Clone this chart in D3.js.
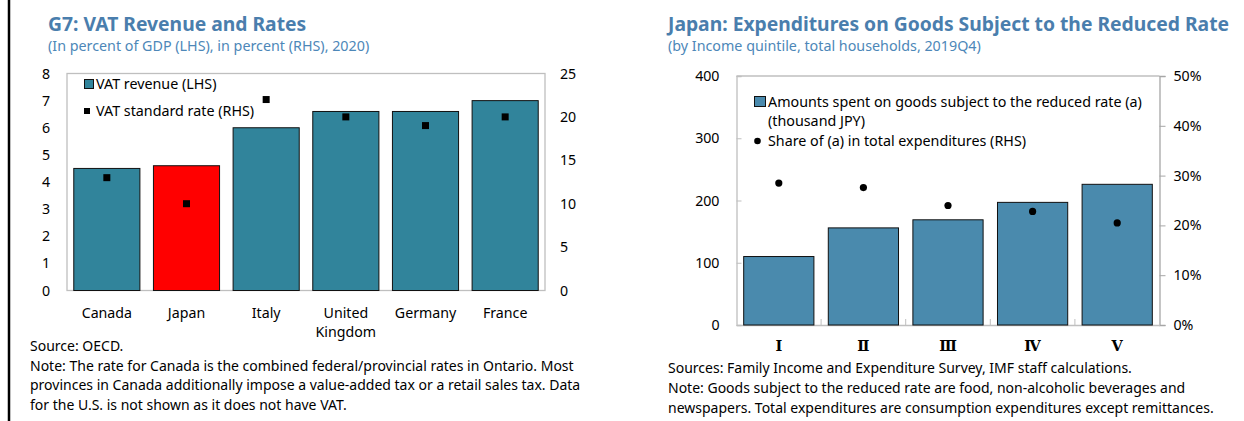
<!DOCTYPE html>
<html>
<head>
<meta charset="utf-8">
<script src="https://cdn.jsdelivr.net/npm/d3@7"></script>
<style>
  body { margin: 0; background: #fff; }
  text { font-family: "Noto Sans", "Open Sans", sans-serif; fill: #000; }
  .title { font-weight: bold; font-size: 19.3px; fill: #4a7ead; }
  .subtitle { font-size: 14.3px; fill: #4d87b8; }
  .tick text { font-size: 14.2px; }
  .legend { font-size: 14.3px; }
  .note { font-size: 14px; }
  .roman text { font-family: "DejaVu Serif", "Liberation Serif", serif; font-size: 14.5px; font-weight: bold; }
</style>
</head>
<body>
<svg id="chart" width="1244" height="421"></svg>
<script>
// 左: G7 VAT
var countries = ["Canada", "Japan", "Italy", "United Kingdom", "Germany", "France"];
var vatRevenue = [4.5, 4.6, 6.0, 6.6, 6.6, 7.0];   // % of GDP (LHS)
var vatRate = [13, 10, 22, 20, 19, 20];             // % (RHS)
var leftTicksL = [0, 1, 2, 3, 4, 5, 6, 7, 8];
var leftTicksR = [0, 5, 10, 15, 20, 25];

// 右: Japan reduced rate
var quintiles = ["Ⅰ", "Ⅱ", "Ⅲ", "Ⅳ", "Ⅴ"];
var spent = [110, 156, 169, 197, 226];              // thousand JPY (LHS)
var share = [0.285, 0.276, 0.240, 0.228, 0.205];    // share (RHS)
var rightTicksL = [0, 100, 200, 300, 400];
var rightTicksR = [0, 0.1, 0.2, 0.3, 0.4, 0.5];

var svg = d3.select("#chart");

// 左端の黒線
svg.append("line")
    .attr("x1", 9).attr("x2", 9)
    .attr("y1", 0).attr("y2", 421)
    .attr("stroke", "#000").attr("stroke-width", 2.5);

// ---------- 左グラフ ----------
var L = {left: 67, right: 545, top: 73.5, bottom: 290.5};

svg.append("text").attr("class", "title").attr("x", 48).attr("y", 31)
    .text("G7: VAT Revenue and Rates");
svg.append("text").attr("class", "subtitle").attr("x", 48).attr("y", 51)
    .text("(In percent of GDP (LHS), in percent (RHS), 2020)");

var xL = d3.scaleBand()
    .domain(countries)
    .range([L.left, L.right])
    .paddingInner(0.17)
    .paddingOuter(0.085);
var yL = d3.scaleLinear().domain([0, 8]).range([L.bottom, L.top]);
var yL2 = d3.scaleLinear().domain([0, 25]).range([L.bottom, L.top]);

svg.append("rect")
    .attr("x", L.left).attr("y", L.top)
    .attr("width", L.right - L.left).attr("height", L.bottom - L.top)
    .attr("fill", "none").attr("stroke", "#bfbfbf").attr("stroke-width", 1.3);

svg.append("g")
    .attr("transform", "translate(" + (L.left - 5) + ",0)")
    .call(d3.axisLeft(yL).tickValues(leftTicksL).tickSize(0).tickPadding(12))
    .call(function(g){ g.select(".domain").remove(); });

svg.append("g")
    .attr("transform", "translate(" + L.right + ",0)")
    .call(d3.axisRight(yL2).tickValues(leftTicksR).tickSize(0).tickPadding(15))
    .call(function(g){ g.select(".domain").remove(); });

var gxL = svg.append("g")
    .attr("transform", "translate(0," + L.bottom + ")")
    .call(d3.axisBottom(xL).tickSize(0).tickPadding(17));
gxL.select(".domain").remove();
// United Kingdom を2行に
gxL.selectAll(".tick text").each(function(d){
    var words = d.split(" ");
    if (words.length < 2) return;
    var t = d3.select(this).text(null);
    words.forEach(function(w, i){
        t.append("tspan").attr("x", 0).attr("dy", i == 0 ? "0.71em" : "1.35em").text(w);
    });
});

svg.append("g").selectAll("rect")
    .data(vatRevenue)
    .enter().append("rect")
    .attr("x", function(d, i){ return xL(countries[i]); })
    .attr("y", function(d){ return yL(d); })
    .attr("width", xL.bandwidth())
    .attr("height", function(d){ return yL(0) - yL(d); })
    .attr("fill", function(d, i){ return countries[i] == "Japan" ? "#ff0000" : "#31849b"; })
    .attr("stroke", "#111").attr("stroke-width", 1);

svg.append("g").selectAll("rect")
    .data(vatRate)
    .enter().append("rect")
    .attr("x", function(d, i){ return xL(countries[i]) + xL.bandwidth() / 2 - 3.5; })
    .attr("y", function(d){ return yL2(d) - 3.5; })
    .attr("width", 7).attr("height", 7)
    .attr("fill", "#000");

// 凡例
svg.append("rect").attr("x", 84.5).attr("y", 79.5).attr("width", 9).attr("height", 9)
    .attr("fill", "#31849b").attr("stroke", "#111");
svg.append("text").attr("class", "legend").attr("x", 96).attr("y", 88.5).text("VAT revenue (LHS)");
svg.append("rect").attr("x", 84).attr("y", 108).attr("width", 6).attr("height", 6).attr("fill", "#000");
svg.append("text").attr("class", "legend").attr("x", 96).attr("y", 115.5).text("VAT standard rate (RHS)");

var notesL = [
    "Source: OECD.",
    "Note: The rate for Canada is the combined federal/provincial rates in Ontario. Most",
    "provinces in Canada additionally impose a value-added tax or a retail sales tax. Data",
    "for the U.S. is not shown as it does not have VAT."
];
svg.append("g").selectAll("text")
    .data(notesL)
    .enter().append("text")
    .attr("class", "note")
    .attr("x", 30)
    .attr("y", function(d, i){ return 351 + i * 19.5; })
    .text(function(d){ return d; });

// ---------- 右グラフ ----------
var R = {left: 736.5, right: 1159.5, top: 76, bottom: 325};

svg.append("text").attr("class", "title").attr("x", 668).attr("y", 31)
    .text("Japan: Expenditures on Goods Subject to the Reduced Rate");
svg.append("text").attr("class", "subtitle").attr("x", 668).attr("y", 51)
    .text("(by Income quintile, total households, 2019Q4)");

var xR = d3.scaleBand()
    .domain(quintiles)
    .range([R.left, R.right])
    .paddingInner(0.17)
    .paddingOuter(0.085);
var yR = d3.scaleLinear().domain([0, 400]).range([R.bottom, R.top]);
var yR2 = d3.scaleLinear().domain([0, 0.5]).range([R.bottom, R.top]);

// 上枠
svg.append("line")
    .attr("x1", R.left).attr("x2", R.right)
    .attr("y1", R.top).attr("y2", R.top)
    .attr("stroke", "#bfbfbf").attr("stroke-width", 1.3);

svg.append("g")
    .attr("transform", "translate(" + R.left + ",0)")
    .call(d3.axisLeft(yR).tickValues(rightTicksL).tickSize(-5).tickPadding(17))
    .call(function(g){
        g.select(".domain").attr("stroke", "#bfbfbf").attr("stroke-width", 1.3);
        g.selectAll(".tick line").attr("stroke", "#bfbfbf");
    });

svg.append("g")
    .attr("transform", "translate(" + R.right + ",0)")
    .call(d3.axisRight(yR2).tickValues(rightTicksR).tickSize(6).tickPadding(8).tickFormat(d3.format(".0%")))
    .call(function(g){
        g.select(".domain").attr("stroke", "#a6a6a6").attr("stroke-width", 1.3);
        g.selectAll(".tick line").attr("stroke", "#a6a6a6");
    });

svg.append("g")
    .attr("class", "roman")
    .attr("transform", "translate(0," + R.bottom + ")")
    .call(d3.axisBottom(xR).tickSize(0).tickPadding(16))
    .call(function(g){
        g.select(".domain").attr("stroke", "#bfbfbf").attr("stroke-width", 1.3);
    });

// カテゴリ間の目盛り
var bounds = quintiles.slice(1).map(function(q, i){
    return (xR(quintiles[i]) + xR.bandwidth() + xR(q)) / 2;
});
svg.append("g").selectAll("line")
    .data(bounds)
    .enter().append("line")
    .attr("x1", function(d){ return d; }).attr("x2", function(d){ return d; })
    .attr("y1", R.bottom).attr("y2", R.bottom - 6)
    .attr("stroke", "#bfbfbf");

svg.append("g").selectAll("rect")
    .data(spent)
    .enter().append("rect")
    .attr("x", function(d, i){ return xR(quintiles[i]); })
    .attr("y", function(d){ return yR(d); })
    .attr("width", xR.bandwidth())
    .attr("height", function(d){ return yR(0) - yR(d); })
    .attr("fill", "#4a8aad")
    .attr("stroke", "#111").attr("stroke-width", 1);

svg.append("g").selectAll("circle")
    .data(share)
    .enter().append("circle")
    .attr("cx", function(d, i){ return xR(quintiles[i]) + xR.bandwidth() / 2; })
    .attr("cy", function(d){ return yR2(d); })
    .attr("r", 3.6)
    .attr("fill", "#000");

// 凡例
svg.append("rect").attr("x", 754.5).attr("y", 96.5).attr("width", 11).attr("height", 10)
    .attr("fill", "#4a8aad").attr("stroke", "#111");
svg.append("text").attr("class", "legend").attr("x", 768).attr("y", 106.5)
    .text("Amounts spent on goods subject to the reduced rate (a)");
svg.append("text").attr("class", "legend").attr("x", 768).attr("y", 126)
    .text("(thousand JPY)");
svg.append("circle").attr("cx", 757.5).attr("cy", 141).attr("r", 3.3).attr("fill", "#000");
svg.append("text").attr("class", "legend").attr("x", 768).attr("y", 145.5)
    .text("Share of (a) in total expenditures (RHS)");

var notesR = [
    "Sources: Family Income and Expenditure Survey, IMF staff calculations.",
    "Note: Goods subject to the reduced rate are food, non-alcoholic beverages and",
    "newspapers. Total expenditures are consumption expenditures except remittances."
];
svg.append("g").selectAll("text")
    .data(notesR)
    .enter().append("text")
    .attr("class", "note")
    .attr("x", 668)
    .attr("y", function(d, i){ return 373 + i * 20; })
    .text(function(d){ return d; });
</script>
</body>
</html>
